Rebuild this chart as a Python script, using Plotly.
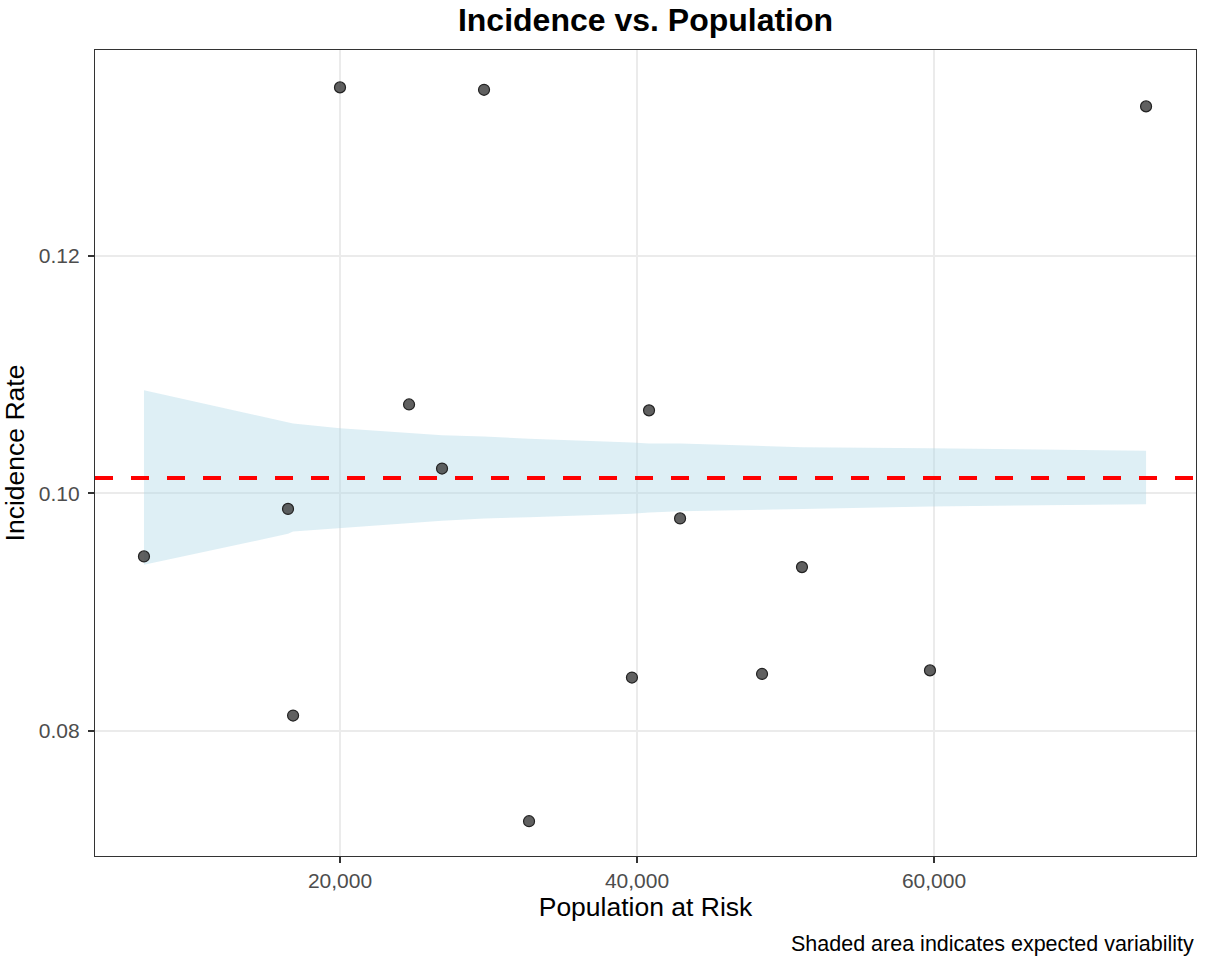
import plotly.graph_objects as go

# Points
population = [6800, 16500, 16840, 20000, 24650, 26870, 29700, 32730,
              39660, 40810, 42900, 48420, 51110, 59730, 74280]
incidence = [0.0947, 0.0987, 0.0813, 0.1342, 0.1075, 0.1021, 0.1340, 0.0724,
             0.0845, 0.1070, 0.0979, 0.0848, 0.0938, 0.0851, 0.1326]

# Band edges at each population value
band_upper = [0.1087, 0.1060, 0.1059, 0.1055, 0.1051, 0.1049, 0.1048, 0.1046,
              0.1043, 0.1042, 0.1042, 0.1040, 0.1039, 0.1038, 0.1036]
band_lower = [0.0940, 0.0966, 0.0968, 0.0971, 0.0975, 0.0977, 0.0979, 0.0980,
              0.0983, 0.0984, 0.0985, 0.0986, 0.0987, 0.0989, 0.0991]

mean_rate = 0.1013

font_family = "Liberation Sans, Arial, sans-serif"

fig = go.Figure()

fig.add_trace(go.Scatter(
    x=population, y=band_upper, mode="lines",
    line=dict(width=0), hoverinfo="skip", showlegend=False
))
fig.add_trace(go.Scatter(
    x=population, y=band_lower, mode="lines",
    line=dict(width=0), fill="tonexty", fillcolor="rgba(173,216,230,0.4)",
    hoverinfo="skip", showlegend=False
))

fig.add_hline(y=mean_rate, line=dict(color="#ff0000", width=4, dash="18px,18px"))

fig.add_trace(go.Scatter(
    x=population, y=incidence, mode="markers",
    marker=dict(size=11, color="rgba(68,68,68,0.85)",
                line=dict(color="#222222", width=1.2)),
    showlegend=False
))

fig.update_layout(
    width=1208, height=960,
    paper_bgcolor="white", plot_bgcolor="white",
    margin=dict(l=95, r=12, t=50, b=104),
    font=dict(family=font_family, color="#000000"),
    title=dict(text="<b>Incidence vs. Population</b>", xref="paper", x=0.5, xanchor="center",
               y=0.979, yanchor="middle", font=dict(size=32, color="#000000")),
    annotations=[dict(
        text="Shaded area indicates expected variability",
        xref="paper", yref="paper", x=1, y=-0.109,
        xanchor="right", yanchor="middle", showarrow=False,
        font=dict(size=21.5, color="#000000")
    )],
)

fig.update_xaxes(
    range=[3502, 77643], tickvals=[20000, 40000, 60000],
    tickformat=",d", showgrid=True, gridcolor="#ebebeb", gridwidth=2,
    zeroline=False, showline=True, linecolor="#333333", linewidth=1.2, mirror=True,
    ticks="outside", ticklen=6, tickcolor="#333333", tickwidth=1.5,
    tickfont=dict(size=21, color="#4d4d4d"),
    title=dict(text="Population at Risk", font=dict(size=26.5, color="#000000"), standoff=6)
)
fig.update_yaxes(
    range=[0.06947, 0.13735], tickvals=[0.08, 0.10, 0.12],
    tickformat=".2f", showgrid=True, gridcolor="#ebebeb", gridwidth=2,
    zeroline=False, showline=True, linecolor="#333333", linewidth=1.2, mirror=True,
    ticks="outside", ticklen=6, tickcolor="#333333", tickwidth=1.5,
    ticklabelstandoff=4,
    tickfont=dict(size=21, color="#4d4d4d"),
    title=dict(text="Incidence Rate", font=dict(size=26.5, color="#000000"), standoff=6)
)

fig.write_html("out.html", config={"displayModeBar": False},
               post_script="document.body.style.margin='0';")
